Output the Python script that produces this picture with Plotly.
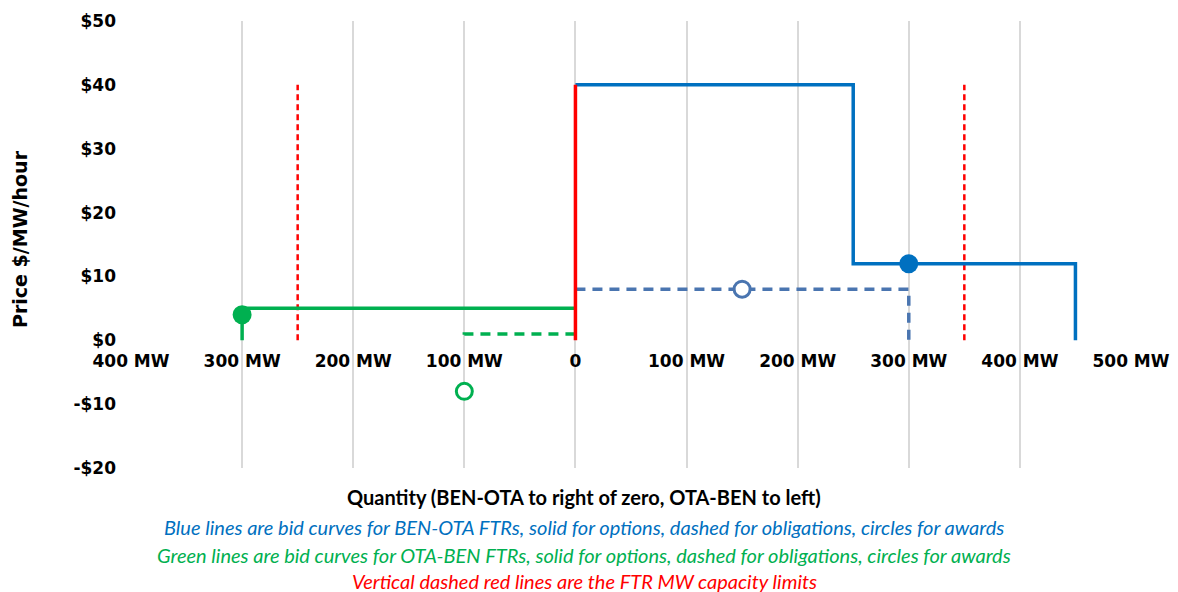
import plotly.graph_objects as go

# ---- data ----
blue_opt_x = [0, 250, 250, 450, 450]
blue_opt_y = [40, 40, 12, 12, 0]
blue_obl_x = [0, 300, 300]
blue_obl_y = [8, 8, 0]
blue_opt_award = (300, 12)
blue_obl_award = (150, 8)

green_opt_x = [0, -300, -300]
green_opt_y = [5, 5, 0]
green_obl_x = [0, -100, -100]
green_obl_y = [1, 1, 0]
green_opt_award = (-300, 4)
green_obl_award = (-100, -8)

zero_line_x = [0, 0]
zero_line_y = [0, 40]
limit_left_x = [-250, -250]
limit_right_x = [350, 350]
limit_y = [0, 40]

x_ticks = [-400, -300, -200, -100, 0, 100, 200, 300, 400, 500]
x_labels = ["400 MW", "300 MW", "200 MW", "100 MW", "0", "100 MW", "200 MW", "300 MW", "400 MW", "500 MW"]
y_ticks = [50, 40, 30, 20, 10, 0, -10, -20]
y_labels = ["$50", "$40", "$30", "$20", "$10", "$0", "-$10", "-$20"]

BLUE = "#0070C0"
BLUE_D = "#4A75B0"
GREEN = "#00B050"
RED = "#FF0000"

fig = go.Figure()
fig.add_trace(go.Scatter(x=limit_left_x, y=limit_y, mode="lines",
                         line=dict(color=RED, width=2.5, dash="6px,4px")))
fig.add_trace(go.Scatter(x=limit_right_x, y=limit_y, mode="lines",
                         line=dict(color=RED, width=2.5, dash="6px,4px")))
fig.add_trace(go.Scatter(x=blue_opt_x, y=blue_opt_y, mode="lines",
                         line=dict(color=BLUE, width=3.5)))
fig.add_trace(go.Scatter(x=blue_obl_x, y=blue_obl_y, mode="lines",
                         line=dict(color=BLUE_D, width=3.5, dash="10px,7px")))
fig.add_trace(go.Scatter(x=green_opt_x, y=green_opt_y, mode="lines",
                         line=dict(color=GREEN, width=3.5)))
fig.add_trace(go.Scatter(x=green_obl_x, y=green_obl_y, mode="lines",
                         line=dict(color=GREEN, width=3.5, dash="10px,7px")))
fig.add_trace(go.Scatter(x=zero_line_x, y=zero_line_y, mode="lines",
                         line=dict(color=RED, width=3.5)))
fig.add_trace(go.Scatter(x=[blue_opt_award[0]], y=[blue_opt_award[1]], mode="markers",
                         marker=dict(color=BLUE, size=19)))
fig.add_trace(go.Scatter(x=[blue_obl_award[0]], y=[blue_obl_award[1]], mode="markers",
                         marker=dict(color="white", size=16, line=dict(color=BLUE_D, width=3))))
fig.add_trace(go.Scatter(x=[green_opt_award[0]], y=[green_opt_award[1]], mode="markers",
                         marker=dict(color=GREEN, size=19)))
fig.add_trace(go.Scatter(x=[green_obl_award[0]], y=[green_obl_award[1]], mode="markers",
                         marker=dict(color="white", size=16, line=dict(color=GREEN, width=3))))

tick_font = dict(family="DejaVu Sans", size=17, color="black", weight="bold")

# page body has an 8px margin, so the figure is 8px smaller and offsets shifted by 8px
fig.update_layout(
    width=1170, height=584,
    margin=dict(l=123, r=47, t=13, b=124),
    paper_bgcolor="white", plot_bgcolor="white",
    showlegend=False,
    xaxis=dict(range=[-400, 500], tickvals=x_ticks, ticktext=x_labels,
               showgrid=True, gridcolor="#d9d9d9", gridwidth=1.5,
               zeroline=False, showline=False, ticks="",
               anchor="free", position=(0 - (-20)) / 70,
               ticklabelstandoff=9, automargin=False,
               tickfont=tick_font),
    yaxis=dict(range=[-20, 50], tickvals=y_ticks, ticktext=y_labels,
               showgrid=False, zeroline=False, showline=False, ticks="",
               ticklabelstandoff=14, automargin=False, tickfont=tick_font),
)

cap_x = (584 - 131) / 1000
def py(p):
    return (468 - p) / 447

fig.add_annotation(text="Price $/MW/hour", xref="paper", yref="paper",
                   x=-0.111, y=py(239), textangle=-90, showarrow=False,
                   xanchor="center", yanchor="middle",
                   font=dict(family="DejaVu Sans", size=19, color="black", weight="bold"))

fig.add_annotation(text="Quantity (BEN-OTA to right of zero, OTA-BEN to left)",
                   xref="paper", yref="paper", x=cap_x, y=py(497), showarrow=False,
                   xanchor="center", yanchor="middle",
                   font=dict(family="Lato", size=20, color="black", weight="bold"))
captions = [
    ("Blue lines are bid curves for BEN-OTA FTRs, solid for options, dashed for obligations, circles for awards", BLUE, 527),
    ("Green lines are bid curves for OTA-BEN FTRs, solid for options, dashed for obligations, circles for awards", GREEN, 555),
    ("Vertical dashed red lines are the FTR MW capacity limits", RED, 581),
]
for txt, col, yp in captions:
    fig.add_annotation(text=txt, xref="paper", yref="paper", x=cap_x, y=py(yp),
                       showarrow=False, xanchor="center", yanchor="middle",
                       font=dict(family="Lato", size=20, color=col, style="italic"))

fig.write_html("out.html")
